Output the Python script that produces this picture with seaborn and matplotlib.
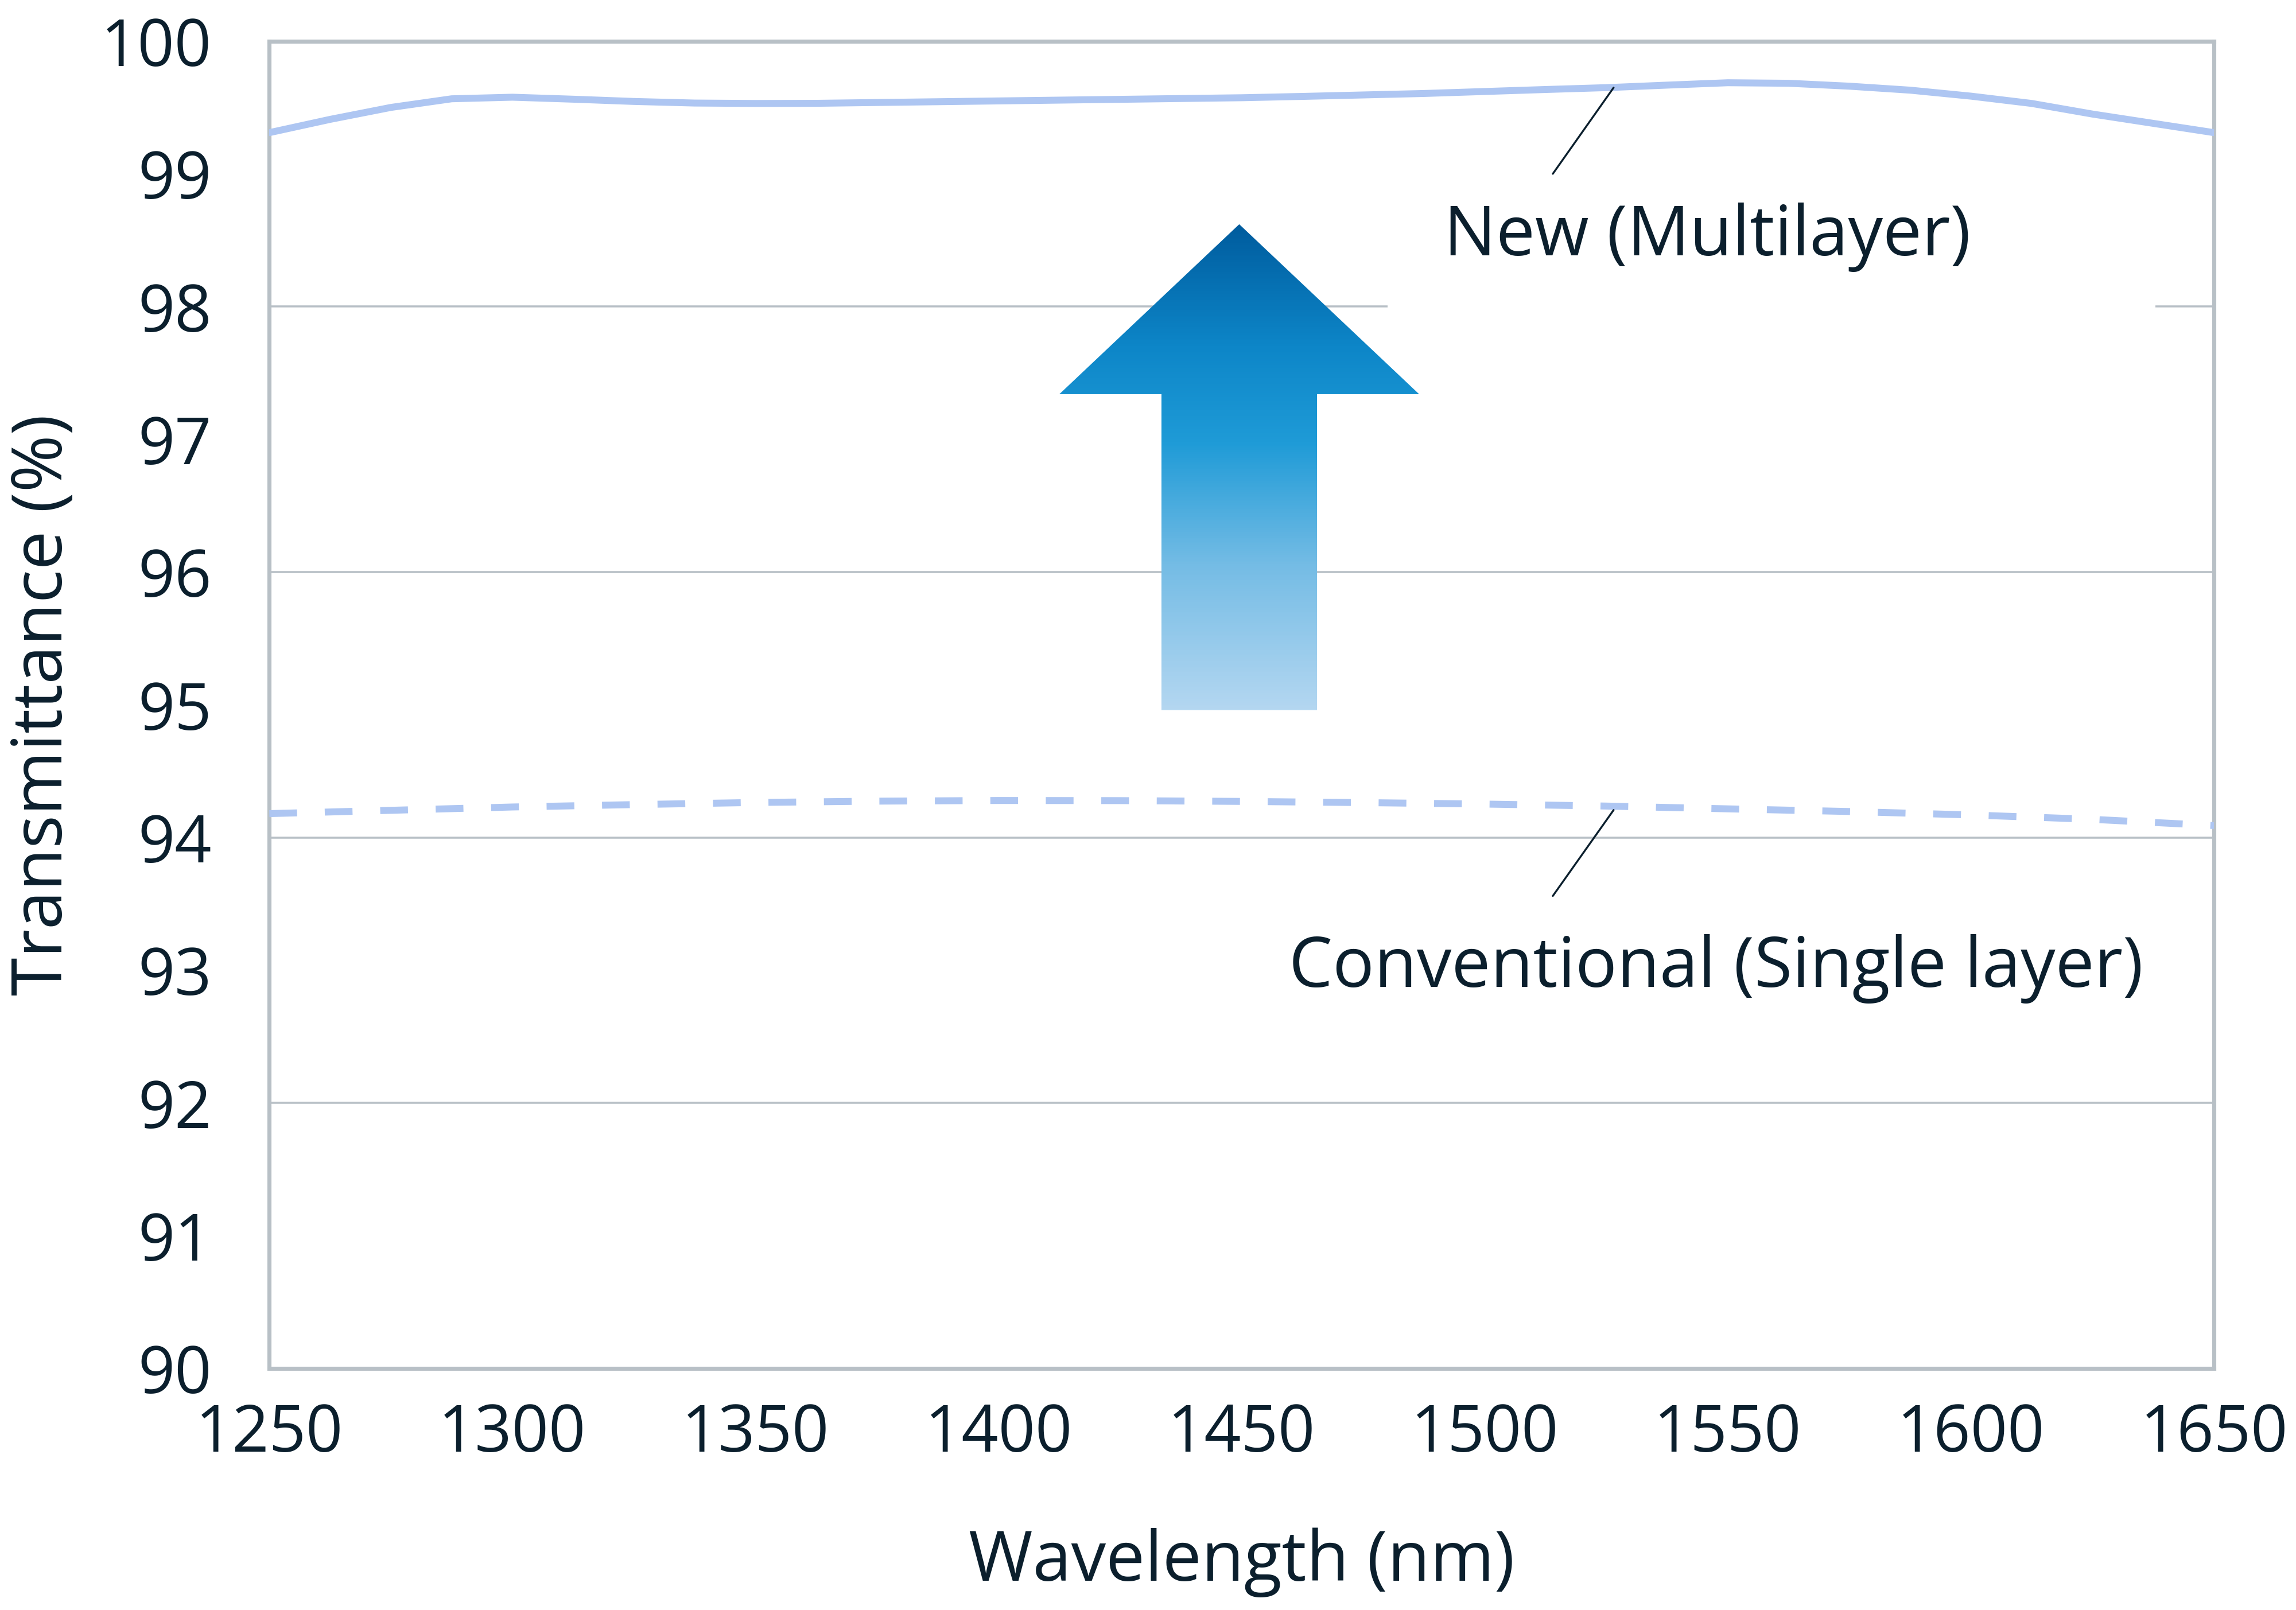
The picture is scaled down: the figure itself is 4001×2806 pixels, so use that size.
import matplotlib.pyplot as plt
import numpy as np
import pandas as pd
import seaborn as sns
from matplotlib.colors import LinearSegmentedColormap
from matplotlib.patches import Polygon, Rectangle

# data
wavelength_new = [1250, 1262.5, 1275, 1287.5, 1300, 1312.5, 1325, 1337.5, 1350,
                  1362.5, 1375, 1387.5, 1400, 1412.5, 1425, 1437.5, 1450,
                  1462.5, 1475, 1487.5, 1500, 1512.5, 1525, 1537.5, 1550,
                  1562.5, 1575, 1587.5, 1600, 1612.5, 1625, 1637.5, 1650]
new_multilayer = [99.31, 99.41, 99.50, 99.565, 99.577, 99.562, 99.545, 99.533, 99.530,
                  99.531, 99.537, 99.543, 99.549, 99.555, 99.561, 99.567, 99.573,
                  99.583, 99.594, 99.605, 99.620, 99.635, 99.649, 99.668, 99.686,
                  99.682, 99.660, 99.630, 99.585, 99.530, 99.450, 99.380, 99.31]
wavelength_conv = [1250, 1275, 1300, 1325, 1350, 1375, 1400, 1425, 1450,
                   1475, 1500, 1525, 1550, 1575, 1600, 1625, 1650]
conventional_single = [94.18, 94.205, 94.23, 94.248, 94.264, 94.274, 94.279, 94.278, 94.272,
                       94.263, 94.252, 94.237, 94.216, 94.196, 94.17, 94.137, 94.09]
x_ticks = list(range(1250, 1651, 50))
y_ticks = list(range(90, 101))
grid_levels = [92, 94, 96, 98]

df_new = pd.DataFrame({'Wavelength': wavelength_new, 'Transmittance': new_multilayer})
df_conv = pd.DataFrame({'Wavelength': wavelength_conv, 'Transmittance': conventional_single})

sns.set_theme(style='white')
plt.rcParams['font.family'] = ['Open Sans', 'DejaVu Sans']

text_color = '#0b1f2d'
frame_color = '#b8c0c6'
line_color = '#aec6f2'

fig = plt.figure(figsize=(4001 / 300, 2806 / 300), dpi=300)
ax = fig.add_axes([0.1173, 0.15, 0.847, 0.8245])

# 网格线（只在偶数位置）
for g in grid_levels:
    ax.axhline(g, color=frame_color, lw=0.85, zorder=1)

# 曲线
sns.lineplot(data=df_new, x='Wavelength', y='Transmittance', ax=ax,
             color=line_color, lw=2.9, zorder=3)
sns.lineplot(data=df_conv, x='Wavelength', y='Transmittance', ax=ax,
             color=line_color, lw=2.9, linestyle=(0, (4, 4)), zorder=3)

# 渐变箭头
arrow_x, arrow_base, arrow_tip, head_base = 1449.5, 94.96, 98.62, 97.34
shaft_half, head_half = 16, 37
arrow_pts = [(arrow_x - shaft_half, arrow_base), (arrow_x + shaft_half, arrow_base),
             (arrow_x + shaft_half, head_base), (arrow_x + head_half, head_base),
             (arrow_x, arrow_tip), (arrow_x - head_half, head_base),
             (arrow_x - shaft_half, head_base)]
arrow_poly = Polygon(arrow_pts, closed=True, facecolor='none', edgecolor='none')
ax.add_patch(arrow_poly)
grad_cmap = LinearSegmentedColormap.from_list(
    'arrow', [(0, '#b4d7f1'), (0.3, '#74bce5'), (0.55, '#1f9bd7'),
              (0.75, '#0d86c8'), (1, '#005c9e')])
grad = np.linspace(0, 1, 256).reshape(-1, 1)
im = ax.imshow(grad, cmap=grad_cmap, origin='lower', aspect='auto',
               extent=[arrow_x - head_half, arrow_x + head_half, arrow_base, arrow_tip],
               zorder=2)
im.set_clip_path(arrow_poly)

# 标注文字
ax.add_patch(Rectangle((1480, 97.85), 158, 0.3, facecolor='white',
                       edgecolor='none', zorder=1.5))
ax.text(1545.8, 98.52, 'New (Multilayer)', ha='center', va='center',
        fontsize=29, color=text_color, zorder=4)
ax.text(1547.6, 93.01, 'Conventional (Single layer)', ha='center', va='center',
        fontsize=29, color=text_color, zorder=4)

lead_x = 1525
ax.plot([lead_x - 11, lead_x + 1.5], [99.0, new_multilayer[wavelength_new.index(lead_x)]],
        color=text_color, lw=0.8, zorder=4)
ax.plot([lead_x - 11, lead_x + 1.5], [93.56, conventional_single[wavelength_conv.index(lead_x)] - 0.03],
        color=text_color, lw=0.8, zorder=4)

# 坐标轴
ax.set_xlim(1250, 1650)
ax.set_ylim(90, 100)
ax.set_xticks(x_ticks)
ax.set_yticks(y_ticks)
ax.tick_params(axis='both', length=0, labelsize=27, labelcolor=text_color)
ax.tick_params(axis='y', pad=24)
ax.tick_params(axis='x', pad=14)

ax.set_xlabel('Wavelength (nm)', fontsize=29, color=text_color)
ax.set_ylabel('Transmittance (%)', fontsize=29, color=text_color)
ax.xaxis.label.set_va('center')
ax.yaxis.label.set_va('center')
ax.xaxis.set_label_coords(0.5, -0.146)
ax.yaxis.set_label_coords(-0.116, 0.5)

for s in ax.spines.values():
    s.set_color(frame_color)
    s.set_linewidth(1.7)
    s.set_visible(True)

fig.savefig('out.png', dpi=300, facecolor='white')
